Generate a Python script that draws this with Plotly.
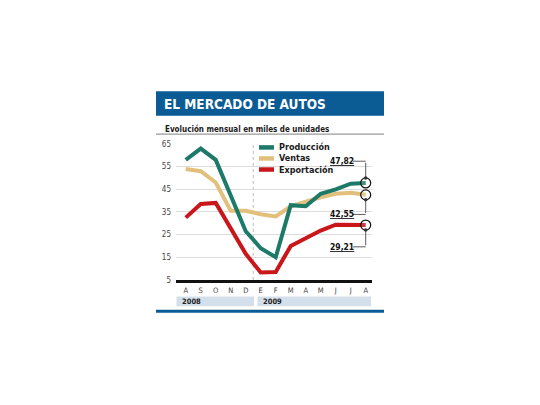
import plotly.graph_objects as go

# ─── Data ─────────────────────────────────────────────────────────────────────

MONTHS = ["A", "S", "O", "N", "D", "E", "F", "M", "A", "M", "J", "J", "A"]
YEARS = ["2008", "2009"]

PRODUCCION  = [58, 63, 58, 42, 26.5, 19, 15, 38, 37.5, 43, 45, 47.5, 47.82]
VENTAS      = [54, 53, 48, 35.5, 35.5, 34, 33, 37.5, 39.5, 41.5, 43, 43.5, 42.55]
EXPORTACION = [32.5, 38.5, 39, 27.5, 16.5, 8.3, 8.5, 20, 23.5, 26.8, 29.4, 29.3, 29.21]

LAST_LABELS = ["47,82", "42,55", "29,21"]
Y_TICKS = [5, 15, 25, 35, 45, 55, 65]

# ─── Style ────────────────────────────────────────────────────────────────────

W, H = 540, 405
OFF = 8          # page body margin pushes the figure right/down by this much
GREEN = "#1e7a68"
TAN   = "#e2c07c"
RED   = "#c8161b"
BLUE  = "#0b5b95"
BAND  = "#d3e0ec"
FONT  = "DejaVu Sans Condensed, sans-serif"


def px_x(p):
    return (p - OFF) / W


def px_y(p):
    return 1 - (p - OFF) / H


fig = go.Figure()
x = list(range(len(MONTHS)))

for name, vals, col in [("Ventas", VENTAS, TAN),
                        ("Exportación", EXPORTACION, RED),
                        ("Producción", PRODUCCION, GREEN)]:
    fig.add_trace(go.Scatter(
        x=x, y=vals, mode="lines", name=name,
        line=dict(color=col, width=4), showlegend=False,
        hoverinfo="skip",
    ))

# open circles on the last value of each series
last = len(MONTHS) - 1
fig.add_trace(go.Scatter(
    x=[last] * 3, y=[PRODUCCION[-1], VENTAS[-1], EXPORTACION[-1]],
    mode="markers", showlegend=False, hoverinfo="skip",
    marker=dict(size=10, color="rgba(255,255,255,0.15)",
                line=dict(color="#111", width=1.2)),
))

shapes = []
annotations = []

# title bar
shapes.append(dict(type="rect", xref="paper", yref="paper",
                   x0=px_x(156), x1=px_x(384), y0=px_y(114), y1=px_y(89),
                   fillcolor=BLUE, line=dict(width=0), layer="below"))
annotations.append(dict(xref="paper", yref="paper", x=px_x(162), y=px_y(102),
                        xanchor="left", yanchor="middle", showarrow=False,
                        text="<b>EL MERCADO DE AUTOS</b>",
                        font=dict(family=FONT, size=13.5, color="white")))

# subtitle and rule
annotations.append(dict(xref="paper", yref="paper", x=px_x(163), y=px_y(127.5),
                        xanchor="left", yanchor="middle", showarrow=False,
                        text="<b>Evolución mensual en miles de unidades</b>",
                        font=dict(family=FONT, size=8, color="#1a1a1a")))
shapes.append(dict(type="line", xref="paper", yref="paper",
                   x0=px_x(156), x1=px_x(384), y0=px_y(133), y1=px_y(133),
                   line=dict(color="#9a9a9a", width=1.2)))

# bottom blue rule
shapes.append(dict(type="rect", xref="paper", yref="paper",
                   x0=px_x(156), x1=px_x(384), y0=px_y(315.5), y1=px_y(312.5),
                   fillcolor=BLUE, line=dict(width=0)))

# year bands
for label, x0, x1 in [(YEARS[0], 176.5, 254), (YEARS[1], 257.5, 371)]:
    shapes.append(dict(type="rect", xref="paper", yref="paper",
                       x0=px_x(x0), x1=px_x(x1), y0=px_y(309), y1=px_y(299),
                       fillcolor=BAND, line=dict(width=0), layer="below"))
    annotations.append(dict(xref="paper", yref="paper", x=px_x(x0 + 3), y=px_y(304),
                            xanchor="left", yanchor="middle", showarrow=False,
                            text=f"<b>{label}</b>",
                            font=dict(family=FONT, size=7.5, color="#222")))

# year divider
shapes.append(dict(type="line", xref="x", yref="y", x0=4.5, x1=4.5, y0=5, y1=65,
                   line=dict(color="#bdbdbd", width=1, dash="dot"), layer="below"))

# legend
for i, (name, col) in enumerate([("Producción", GREEN), ("Ventas", TAN),
                                 ("Exportación", RED)]):
    yy = 146.5 + i * 11.3
    shapes.append(dict(type="line", xref="paper", yref="paper",
                       x0=px_x(259), x1=px_x(274), y0=px_y(yy), y1=px_y(yy),
                       line=dict(color=col, width=4.5)))
    annotations.append(dict(xref="paper", yref="paper", x=px_x(277), y=px_y(yy),
                            xanchor="left", yanchor="middle", showarrow=False,
                            text=f"<b>{name}</b>",
                            font=dict(family=FONT, size=9, color="#1a1a1a")))

# value call-outs (text y in data units, leader goes to the circle)
callouts = [
    (LAST_LABELS[0], 57.4, PRODUCCION[-1] + 2.2),
    (LAST_LABELS[1], 33.9, VENTAS[-1] - 2.2),
    (LAST_LABELS[2], 19.6, EXPORTACION[-1] - 2.2),
]
for text, ty, tip in callouts:
    annotations.append(dict(xref="x", yref="y", x=10.4, y=ty,
                            xanchor="center", yanchor="middle", showarrow=False,
                            text=f"<b><u>{text}</u></b>",
                            font=dict(family=FONT, size=8.5, color="#111")))
    shapes.append(dict(type="line", xref="x", yref="y", x0=11.15, x1=last,
                       y0=ty, y1=ty, line=dict(color="#333", width=0.8)))
    annotations.append(dict(xref="x", yref="y", axref="x", ayref="y",
                            x=last, y=tip, ax=last, ay=ty, text="",
                            showarrow=True, arrowhead=6, arrowsize=1.1,
                            arrowwidth=0.8, arrowcolor="#333"))

fig.update_layout(
    width=W, height=H,
    margin=dict(l=0, r=0, t=0, b=0),
    paper_bgcolor="white", plot_bgcolor="white",
    shapes=shapes, annotations=annotations,
    xaxis=dict(
        domain=[px_x(176), px_x(372)],
        range=[-0.65, 12.42],
        tickvals=x, ticktext=MONTHS,
        showgrid=False, zeroline=False,
        showline=True, linecolor="#111", linewidth=3,
        ticks="", ticklabelstandoff=1,
        tickfont=dict(family=FONT, size=7.5, color="#444"),
        fixedrange=True,
    ),
    yaxis=dict(
        domain=[px_y(282), px_y(143)],
        range=[5, 65],
        tickvals=Y_TICKS,
        showgrid=True, gridcolor="#dcdcdc", gridwidth=1,
        zeroline=False, showline=False, ticks="",
        ticklabelstandoff=4,
        tickfont=dict(family=FONT, size=8, color="#444"),
        fixedrange=True,
    ),
)

fig.write_html("out.html")
